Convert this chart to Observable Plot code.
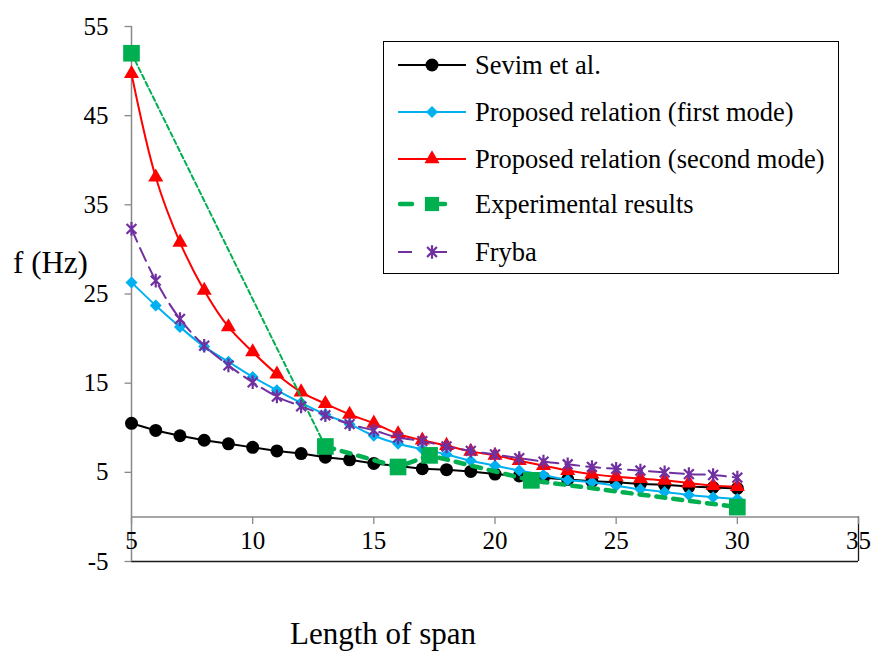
<!DOCTYPE html>
<html>
<head>
<meta charset="utf-8">
<script src="https://cdn.jsdelivr.net/npm/d3@7"></script>
<script src="https://cdn.jsdelivr.net/npm/@observablehq/plot@0.6"></script>
<style>
  html, body { margin: 0; padding: 0; background: #fff; }
  #wrap { position: relative; width: 874px; height: 655px; font-family: 'Liberation Serif'; }
  #legend { position: absolute; left: 383px; top: 41px; width: 456px; height: 233px; border: 1.5px solid #000; background: #fff; box-sizing: border-box; }
  .row { position: absolute; left: 0; height: 30px; display: flex; align-items: center; }
  .row svg { margin-left: 13px; flex: none; }
  .row span { margin-left: 8px; font-size: 26.5px; line-height: 30px; color: #000; white-space: nowrap; font-family: 'Liberation Serif'; }
</style>
</head>
<body>
<div id="wrap"><div id="chart"></div><div id="legend"></div></div>
<script>
// ---- data ----
const spans = [5,6,7,8,9,10,11,12,13,14,15,16,17,18,19,20,21,22,23,24,25,26,27,28,29,30];
const sevim = [10.5,9.7,9.1,8.6,8.2,7.8,7.4,7.1,6.7,6.4,6.0,5.7,5.4,5.3,5.1,4.8,4.6,4.4,4.2,4.0,3.9,3.7,3.6,3.4,3.3,3.2];
const firstMode = [26.3,23.7,21.3,19.1,17.4,15.7,14.2,12.8,11.5,10.4,9.1,8.2,7.6,7.0,6.3,5.75,5.2,4.7,4.15,3.9,3.5,3.1,2.8,2.45,2.2,2.0];
const secondMode = [49.7,38.1,30.8,25.4,21.3,18.5,16.0,14.0,12.7,11.5,10.5,9.3,8.6,8.0,7.35,6.9,6.3,5.75,5.2,4.8,4.5,4.3,4.1,3.8,3.5,3.4];
const fryba = [32.3,26.5,22.2,19.2,17.0,15.1,13.5,12.4,11.4,10.4,9.7,8.9,8.5,7.9,7.4,7.0,6.6,6.2,5.9,5.6,5.4,5.2,5.0,4.8,4.7,4.4];
const expSpans = [5,13,16,17.3,21.5,30];
const expValues = [52,7.9,5.6,6.9,4.1,1.1];
const xTicks = [5,10,15,20,25,30,35];
const yTicks = [-5,5,15,25,35,45,55];
const seriesNames = ["Sevim et al.","Proposed relation (first mode)","Proposed relation (second mode)","Experimental results","Fryba"];
const xTitle = "Length of span";
const yTitle = "f (Hz)";

const colors = {black:"#000000", blue:"#00B0F0", red:"#FF0000", green:"#00B050", purple:"#7030A0", axis:"#898989"};

const toRows = (xs, ys) => xs.map((x, i) => ({x, y: ys[i]}));
const dSevim = toRows(spans, sevim);
const dFirst = toRows(spans, firstMode);
const dSecond = toRows(spans, secondMode);
const dFryba = toRows(spans, fryba);
const dExp = toRows(expSpans, expValues);
const dExpThin = dExp.slice(0, 2);
const dExpThick = dExp.slice(1);

// custom symbols
const starSym = {draw(ctx, size) { const h = Math.sqrt(size) * 0.55; const d = h * 0.72;
  ctx.moveTo(0, -h); ctx.lineTo(0, h); ctx.moveTo(-d, -d); ctx.lineTo(d, d); ctx.moveTo(-d, d); ctx.lineTo(d, -d); }};
const hTick = {draw(ctx) { ctx.moveTo(-7, 0); ctx.lineTo(0, 0); }};
const vTick = {draw(ctx) { ctx.moveTo(0, 0); ctx.lineTo(0, 7); }};

const font = "Liberation Serif";
const xMin = xTicks[0], xMax = xTicks[xTicks.length - 1];
const yMin = yTicks[0], yMax = yTicks[yTicks.length - 1];

const chart = Plot.plot({
  width: 874,
  height: 655,
  marginTop: 26,
  marginBottom: 94,
  marginLeft: 131,
  marginRight: 16,
  style: {fontFamily: "'Liberation Serif'", background: "#fff"},
  x: {domain: [xMin, xMax], axis: null},
  y: {domain: [yMin, yMax], axis: null},
  marks: [
    Plot.ruleY([yMin], {stroke: "#1a1a1a", strokeWidth: 1.3}),
    Plot.ruleX([xMax], {y1: yMin, y2: 0, stroke: "#1a1a1a", strokeWidth: 1.3}),
    Plot.ruleY([0], {stroke: colors.axis, strokeWidth: 1.5}),
    Plot.ruleX([xMin], {stroke: colors.axis, strokeWidth: 1.5}),
    Plot.dot(yTicks, {x: () => xMin, y: d => d, symbol: hTick, stroke: colors.axis, strokeWidth: 1.3, fill: "none"}),
    Plot.dot(xTicks, {x: d => d, y: () => 0, symbol: vTick, stroke: colors.axis, strokeWidth: 1.3, fill: "none"}),
    Plot.text(yTicks, {y: d => d, frameAnchor: "left", textAnchor: "end", dx: -23, text: d => String(d), fontSize: 25, fontFamily: font, fill: "#000"}),
    Plot.text(xTicks, {x: d => d, frameAnchor: "bottom", dy: -13, text: d => String(d), fontSize: 25, fontFamily: font, fill: "#000"}),
    Plot.text([yTitle], {frameAnchor: "left", textAnchor: "middle", dx: -81, dy: -31, text: d => d, fontSize: 31, fontFamily: font, fill: "#000"}),
    Plot.text([xTitle], {frameAnchor: "bottom", textAnchor: "middle", dx: -112, dy: 82, text: d => d, fontSize: 31, fontFamily: font, fill: "#000"}),

    Plot.line(dSevim, {x: "x", y: "y", stroke: colors.black, strokeWidth: 2}),
    Plot.dot(dSevim, {x: "x", y: "y", symbol: "circle", r: 6.5, fill: colors.black}),

    Plot.line(dFirst, {x: "x", y: "y", stroke: colors.blue, strokeWidth: 2, curve: "catmull-rom"}),
    Plot.dot(dFirst, {x: "x", y: "y", symbol: "diamond2", r: 5.4, fill: colors.blue}),

    Plot.line(dSecond, {x: "x", y: "y", stroke: colors.red, strokeWidth: 2, curve: "catmull-rom"}),
    Plot.dot(dSecond, {x: "x", y: "y", symbol: "triangle", r: 5.6, fill: colors.red}),

    Plot.line(dExpThin, {x: "x", y: "y", stroke: colors.green, strokeWidth: 2, strokeDasharray: "5,3"}),
    Plot.line(dExpThick, {x: "x", y: "y", stroke: colors.green, strokeWidth: 4.5, strokeDasharray: "9,8", strokeLinecap: "round"}),
    Plot.dot(dExp, {x: "x", y: "y", symbol: "square", r: 9.4, fill: colors.green}),

    Plot.line(dFryba, {x: "x", y: "y", stroke: colors.purple, strokeWidth: 2, strokeDasharray: "14,7", curve: "catmull-rom"}),
    Plot.dot(dFryba, {x: "x", y: "y", symbol: starSym, r: 7, stroke: colors.purple, strokeWidth: 2.2, fill: "none"})
  ]
});
document.getElementById("chart").appendChild(chart);

// ---- legend ----
const legendSpecs = [
  {name: seriesNames[0], color: colors.black, dash: null, width: 2, sym: d3.symbolCircle, size: Math.PI * 6.5 * 6.5, fill: true},
  {name: seriesNames[1], color: colors.blue, dash: null, width: 2, sym: d3.symbolDiamond2, size: Math.PI * 5.4 * 5.4, fill: true},
  {name: seriesNames[2], color: colors.red, dash: null, width: 2, sym: d3.symbolTriangle, size: Math.PI * 5.6 * 5.6, fill: true},
  {name: seriesNames[3], color: colors.green, dash: "12,21", width: 4.5, sym: d3.symbolSquare, size: Math.PI * 8 * 8, fill: true, cap: "round"},
  {name: seriesNames[4], color: colors.purple, dash: "14,21", width: 2, sym: starSym, size: Math.PI * 7 * 7, fill: false}
];
const legend = d3.select("#legend");
const rowTops = [8, 55, 102, 147, 195];
legendSpecs.forEach((s, i) => {
  const row = legend.append("div").attr("class", "row").style("top", rowTops[i] + "px");
  const svg = row.append("svg").attr("width", 70).attr("height", 30);
  const line = svg.append("line").attr("x1", s.cap ? 3 : 1).attr("x2", s.cap ? 66 : 69).attr("y1", 15).attr("y2", 15)
    .attr("stroke", s.color).attr("stroke-width", s.width);
  if (s.dash) line.attr("stroke-dasharray", s.dash);
  if (s.cap) line.attr("stroke-linecap", s.cap);
  const p = svg.append("path").attr("transform", "translate(35,15)").attr("d", d3.symbol(s.sym, s.size)());
  if (s.fill) p.attr("fill", s.color); else p.attr("fill", "none").attr("stroke", s.color).attr("stroke-width", 2.2);
  row.append("span").text(s.name);
});
</script>
</body>
</html>
